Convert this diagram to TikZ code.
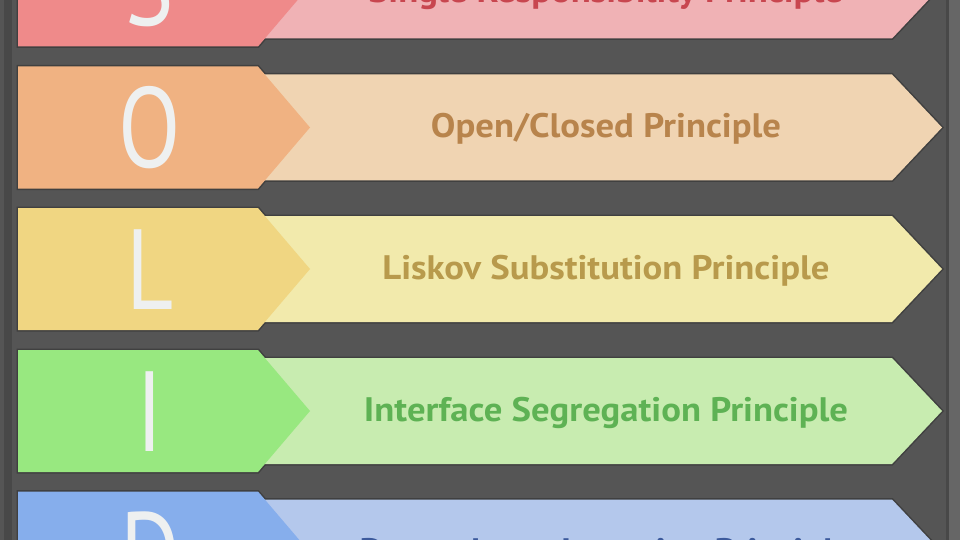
\documentclass[tikz,border=0pt]{standalone}
\usepackage{fontspec}
\setmainfont{PT Sans}
\newfontfamily\bigfont[FakeStretch=0.8]{PT Sans}
\newfontfamily\labfont[FakeStretch=1.08]{PT Sans Bold}
\definecolor{bg}{HTML}{555555}
\definecolor{bgdark}{HTML}{484848}
\definecolor{edge}{HTML}{404040}
\definecolor{letter}{HTML}{EEF0F0}
\definecolor{sL}{HTML}{EF8A8A}\definecolor{sB}{HTML}{F0B2B5}\definecolor{sT}{HTML}{C8464F}
\definecolor{oL}{HTML}{F0B282}\definecolor{oB}{HTML}{F0D4B2}\definecolor{oT}{HTML}{B8844C}
\definecolor{lL}{HTML}{F0D682}\definecolor{lB}{HTML}{F2EAAC}\definecolor{lT}{HTML}{B89A4C}
\definecolor{iL}{HTML}{98E880}\definecolor{iB}{HTML}{C8ECB0}\definecolor{iT}{HTML}{5EB254}
\definecolor{dL}{HTML}{86AEEC}\definecolor{dB}{HTML}{B4C8EC}\definecolor{dT}{HTML}{3C5A9C}
\tikzset{
  outline/.style={draw=edge, line width=3pt, line join=miter},
  bigletter/.style={font=\bigfont\fontsize{114}{114}\selectfont, text=letter, anchor=base, inner sep=0pt},
  label/.style={font=\labfont\fontsize{34}{34}\selectfont, anchor=base, inner sep=0pt},
}
\newcommand{\solidrow}[7]{%
  \draw[outline] (258,#1-53) -- (892,#1-53) -- (942,#1) -- (892,#1+53) -- (258,#1+53) -- cycle;
  \draw[outline] (18,#1-61) -- (258,#1-61) -- (310,#1) -- (258,#1+61) -- (18,#1+61) -- cycle;
  \fill[#3] (258,#1-53) -- (892,#1-53) -- (942,#1) -- (892,#1+53) -- (258,#1+53) -- cycle;
  \fill[#2] (18,#1-61) -- (258,#1-61) -- (310,#1) -- (258,#1+61) -- (18,#1+61) -- cycle;
  \node[bigletter] (let#5) at (150,#1+40) {#5};
  \node[label, text=#4] (txt#5) at (606,#7) {#6};
}
\begin{document}
\begin{tikzpicture}[x=1pt,y=-1pt]
\useasboundingbox (0,0) rectangle (960,540);
\clip (0,0) rectangle (960,540);
\fill[bg] (0,0) rectangle (960,540);
\fill[bgdark] (4,0) rectangle (12,540);
\fill[bgdark] (946,0) rectangle (949,540);
\fill[bg!90!white] (949,0) rectangle (960,540);
\solidrow{-14.5}{sL}{sB}{sT}{S}{Single Responsibility Principle}{3}
\solidrow{127.5}{oL}{oB}{oT}{O}{Open/Closed Principle}{137.5}
\solidrow{269}{lL}{lB}{lT}{L}{Liskov Substitution Principle}{279.5}
\solidrow{411}{iL}{iB}{iT}{I}{Interface Segregation Principle}{421.5}
\solidrow{552.5}{dL}{dB}{dT}{D}{Dependency Inversion Principle}{562}
\end{tikzpicture}
\end{document}
